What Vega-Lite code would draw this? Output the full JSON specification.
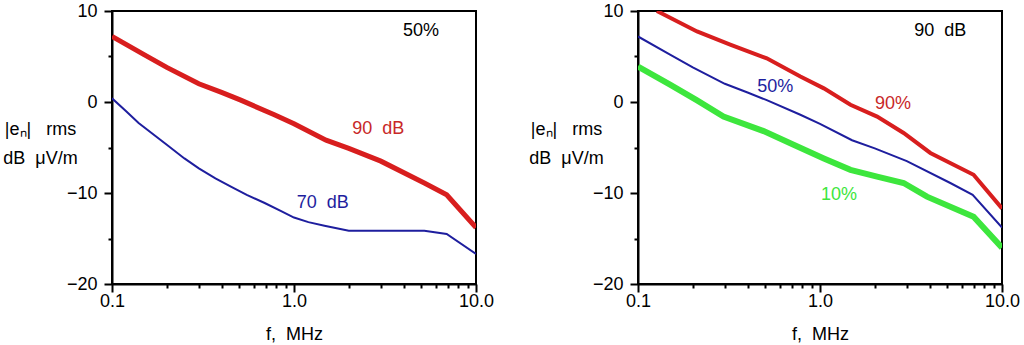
{
  "$schema": "https://vega.github.io/schema/vega-lite/v6.json",
  "background": "white",
  "padding": {"left": 1, "top": 1, "right": 5, "bottom": 0},
  "config": {
    "view": {"stroke": "black", "strokeWidth": 2},
    "font": "Liberation Sans",
    "text": {"font": "Liberation Sans"},
    "axis": {
      "domainColor": "black", "domainWidth": 2,
      "tickColor": "black", "tickWidth": 2, "ticks": true, "tickOpacity": 1,
      "labelColor": "black", "labelFont": "Liberation Sans", "labelFontSize": 18,
      "titleFont": "Liberation Sans", "titleFontSize": 18, "titleFontWeight": "normal", "titleColor": "black",
      "grid": false
    }
  },
  "datasets": {
    "left": [
      {"series": "90 dB", "f": 0.1, "v": 7.2},
      {"series": "90 dB", "f": 0.15, "v": 5.2},
      {"series": "90 dB", "f": 0.2, "v": 3.8},
      {"series": "90 dB", "f": 0.3, "v": 2.0},
      {"series": "90 dB", "f": 0.4, "v": 1.05},
      {"series": "90 dB", "f": 0.51, "v": 0.2},
      {"series": "90 dB", "f": 0.78, "v": -1.4},
      {"series": "90 dB", "f": 1.0, "v": -2.4},
      {"series": "90 dB", "f": 1.5, "v": -4.2},
      {"series": "90 dB", "f": 2.0, "v": -5.1},
      {"series": "90 dB", "f": 3.0, "v": -6.5},
      {"series": "90 dB", "f": 5.2, "v": -8.9},
      {"series": "90 dB", "f": 6.9, "v": -10.2},
      {"series": "90 dB", "f": 10, "v": -13.8},
      {"series": "70 dB", "f": 0.1, "v": 0.4},
      {"series": "70 dB", "f": 0.12, "v": -1.05},
      {"series": "70 dB", "f": 0.14, "v": -2.3},
      {"series": "70 dB", "f": 0.2, "v": -4.7},
      {"series": "70 dB", "f": 0.25, "v": -6.2},
      {"series": "70 dB", "f": 0.3, "v": -7.3},
      {"series": "70 dB", "f": 0.37, "v": -8.4},
      {"series": "70 dB", "f": 0.45, "v": -9.3},
      {"series": "70 dB", "f": 0.55, "v": -10.2},
      {"series": "70 dB", "f": 0.69, "v": -11.1},
      {"series": "70 dB", "f": 0.85, "v": -12.0},
      {"series": "70 dB", "f": 1.0, "v": -12.7},
      {"series": "70 dB", "f": 1.2, "v": -13.2},
      {"series": "70 dB", "f": 1.47, "v": -13.6},
      {"series": "70 dB", "f": 2.0, "v": -14.15},
      {"series": "70 dB", "f": 5.2, "v": -14.15},
      {"series": "70 dB", "f": 6.9, "v": -14.5},
      {"series": "70 dB", "f": 10, "v": -16.7}
    ],
    "right": [
      {"series": "90%", "f": 0.127, "v": 10},
      {"series": "90%", "f": 0.211, "v": 7.75},
      {"series": "90%", "f": 0.321, "v": 6.3},
      {"series": "90%", "f": 0.51, "v": 4.8},
      {"series": "90%", "f": 0.78, "v": 2.8},
      {"series": "90%", "f": 1.05, "v": 1.5},
      {"series": "90%", "f": 1.47, "v": -0.3},
      {"series": "90%", "f": 2.06, "v": -1.6},
      {"series": "90%", "f": 2.88, "v": -3.4},
      {"series": "90%", "f": 4.04, "v": -5.6},
      {"series": "90%", "f": 6.98, "v": -8.0},
      {"series": "90%", "f": 10, "v": -11.7},
      {"series": "50%", "f": 0.1, "v": 7.2},
      {"series": "50%", "f": 0.15, "v": 5.2},
      {"series": "50%", "f": 0.2, "v": 3.8},
      {"series": "50%", "f": 0.3, "v": 2.0},
      {"series": "50%", "f": 0.4, "v": 1.05},
      {"series": "50%", "f": 0.51, "v": 0.2},
      {"series": "50%", "f": 0.78, "v": -1.4},
      {"series": "50%", "f": 1.0, "v": -2.4},
      {"series": "50%", "f": 1.5, "v": -4.2},
      {"series": "50%", "f": 2.0, "v": -5.1},
      {"series": "50%", "f": 3.0, "v": -6.5},
      {"series": "50%", "f": 5.2, "v": -8.9},
      {"series": "50%", "f": 6.9, "v": -10.2},
      {"series": "50%", "f": 10, "v": -13.8},
      {"series": "10%", "f": 0.1, "v": 3.9},
      {"series": "10%", "f": 0.15, "v": 1.9},
      {"series": "10%", "f": 0.21, "v": 0.2},
      {"series": "10%", "f": 0.295, "v": -1.6},
      {"series": "10%", "f": 0.49, "v": -3.2},
      {"series": "10%", "f": 0.716, "v": -4.7},
      {"series": "10%", "f": 1.05, "v": -6.2},
      {"series": "10%", "f": 1.47, "v": -7.45},
      {"series": "10%", "f": 2.06, "v": -8.2},
      {"series": "10%", "f": 2.88, "v": -8.9},
      {"series": "10%", "f": 3.87, "v": -10.4},
      {"series": "10%", "f": 6.98, "v": -12.6},
      {"series": "10%", "f": 10, "v": -16.0}
    ],
    "leftText": [
      {"series": "note", "f": 4.99, "v": 7.75, "text": "50%"},
      {"series": "90 dB", "f": 2.9, "v": -3.0, "text": "90\u00a0\u00a0dB"},
      {"series": "70 dB", "f": 1.44, "v": -11.1, "text": "70\u00a0\u00a0dB"}
    ],
    "rightText": [
      {"series": "note", "f": 4.58, "v": 7.75, "text": "90\u00a0\u00a0dB"},
      {"series": "50%", "f": 0.568, "v": 1.7, "text": "50%"},
      {"series": "90%", "f": 2.52, "v": -0.24, "text": "90%"},
      {"series": "10%", "f": 1.27, "v": -10.2, "text": "10%"}
    ]
  },
  "spacing": 162,
  "bounds": "flush",
  "hconcat": [
    {
      "width": 364,
      "height": 273,
      "resolve": {"axis": {"x": "independent", "y": "independent"}},
      "layer": [
        {"data": {"name": "left"}, "transform": [{"filter": "datum.series == '90 dB'"}],
         "mark": {"type": "line", "color": "#d81e1e", "strokeWidth": 5, "clip": true},
         "encoding": {
           "x": {"field": "f", "type": "quantitative",
             "scale": {"type": "log", "domain": [0.1, 10], "nice": false},
             "axis": {"orient": "bottom", "values": [0.1, 1, 10],
               "labelExpr": "datum.value==0.1?'0.1':datum.value==1?'1.0':'10.0'",
               "labelOverlap": false, "labelFlush": false, "labelBound": false,
               "ticks": true, "tickSize": 8, "labelPadding": 0,
               "title": "f,\u00a0\u00a0MHz", "titlePadding": 15}},
           "y": {"field": "v", "type": "quantitative",
             "scale": {"domain": [-20, 10], "nice": false},
             "axis": {"orient": "left", "values": [-20, -10, 0, 10],
               "labelOverlap": false, "labelFlush": false, "labelBound": false,
               "ticks": true, "tickSize": 8, "labelPadding": 7,
               "title": ["|eₙ|\u00a0\u00a0\u00a0rms", "dB\u00a0\u00a0μV/m"],
               "titleAngle": 0, "titleX": -72, "titleY": 118, "titleAlign": "center",
               "titleBaseline": "middle", "titleLineHeight": 29}}
         }},
        {"data": {"name": "left"}, "transform": [{"filter": "datum.series == '70 dB'"}],
         "mark": {"type": "line", "color": "#1e1e9e", "strokeWidth": 2, "clip": true},
         "encoding": {
           "x": {"field": "f", "type": "quantitative",
             "axis": {"orient": "bottom", "values": [0.2,0.3,0.4,0.5,0.6,0.7,0.8,0.9,2,3,4,5,6,7,8,9],
               "labels": false, "domain": false, "ticks": true, "tickSize": 4, "title": null}},
           "y": {"field": "v", "type": "quantitative",
             "axis": {"orient": "left", "values": [-15, -5, 5],
               "labels": false, "domain": false, "ticks": true, "tickSize": 4, "title": null}}
         }},
        {"data": {"name": "leftText"},
         "mark": {"type": "text", "fontSize": 18, "align": "center", "baseline": "middle"},
         "encoding": {
           "x": {"field": "f", "type": "quantitative", "axis": null},
           "y": {"field": "v", "type": "quantitative", "axis": null},
           "text": {"field": "text"},
           "color": {"field": "series", "type": "nominal", "legend": null,
             "scale": {"domain": ["note", "90 dB", "70 dB", "90%", "50%", "10%"],
                       "range": ["black", "#c82828", "#1e1e9e", "#c82828", "#1e1e9e", "#3de63d"]}}
         }}
      ]
    },
    {
      "width": 364,
      "height": 273,
      "resolve": {"axis": {"x": "independent", "y": "independent"}},
      "layer": [
        {"data": {"name": "right"}, "transform": [{"filter": "datum.series == '90%'"}],
         "mark": {"type": "line", "color": "#d81e1e", "strokeWidth": 4, "clip": true},
         "encoding": {
           "x": {"field": "f", "type": "quantitative",
             "scale": {"type": "log", "domain": [0.1, 10], "nice": false},
             "axis": {"orient": "bottom", "values": [0.1, 1, 10],
               "labelExpr": "datum.value==0.1?'0.1':datum.value==1?'1.0':'10.0'",
               "labelOverlap": false, "labelFlush": false, "labelBound": false,
               "ticks": true, "tickSize": 8, "labelPadding": 0,
               "title": "f,\u00a0\u00a0MHz", "titlePadding": 15}},
           "y": {"field": "v", "type": "quantitative",
             "scale": {"domain": [-20, 10], "nice": false},
             "axis": {"orient": "left", "values": [-20, -10, 0, 10],
               "labelOverlap": false, "labelFlush": false, "labelBound": false,
               "ticks": true, "tickSize": 8, "labelPadding": 7,
               "title": ["|eₙ|\u00a0\u00a0\u00a0rms", "dB\u00a0\u00a0μV/m"],
               "titleAngle": 0, "titleX": -72, "titleY": 118, "titleAlign": "center",
               "titleBaseline": "middle", "titleLineHeight": 29}}
         }},
        {"data": {"name": "right"}, "transform": [{"filter": "datum.series == '50%'"}],
         "mark": {"type": "line", "color": "#1e1e9e", "strokeWidth": 2, "clip": true},
         "encoding": {
           "x": {"field": "f", "type": "quantitative",
             "axis": {"orient": "bottom", "values": [0.2,0.3,0.4,0.5,0.6,0.7,0.8,0.9,2,3,4,5,6,7,8,9],
               "labels": false, "domain": false, "ticks": true, "tickSize": 4, "title": null}},
           "y": {"field": "v", "type": "quantitative",
             "axis": {"orient": "left", "values": [-15, -5, 5],
               "labels": false, "domain": false, "ticks": true, "tickSize": 4, "title": null}}
         }},
        {"data": {"name": "right"}, "transform": [{"filter": "datum.series == '10%'"}],
         "mark": {"type": "line", "color": "#3de63d", "strokeWidth": 6, "clip": true},
         "encoding": {
           "x": {"field": "f", "type": "quantitative", "axis": null},
           "y": {"field": "v", "type": "quantitative", "axis": null}
         }},
        {"data": {"name": "rightText"},
         "mark": {"type": "text", "fontSize": 18, "align": "center", "baseline": "middle"},
         "encoding": {
           "x": {"field": "f", "type": "quantitative", "axis": null},
           "y": {"field": "v", "type": "quantitative", "axis": null},
           "text": {"field": "text"},
           "color": {"field": "series", "type": "nominal", "legend": null,
             "scale": {"domain": ["note", "90 dB", "70 dB", "90%", "50%", "10%"],
                       "range": ["black", "#c82828", "#1e1e9e", "#c82828", "#1e1e9e", "#3de63d"]}}
         }}
      ]
    }
  ]
}
